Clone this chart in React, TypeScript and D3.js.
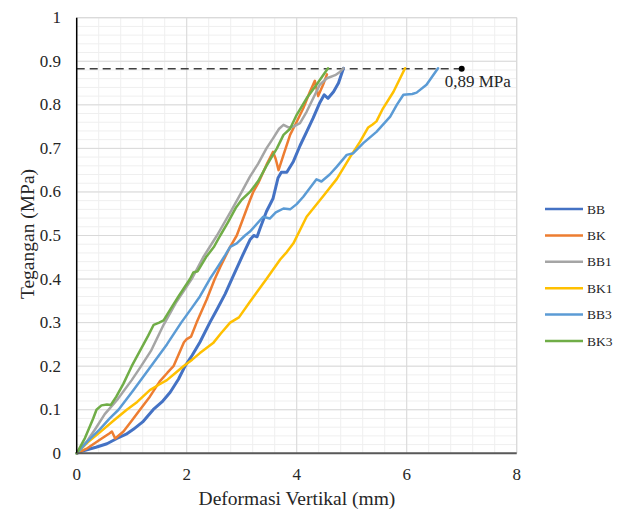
import React from "react";
import * as d3 from "d3";

type P = [number, number];

const seriesNames = ["BB", "BK", "BB1", "BK1", "BB3", "BK3"];
const seriesColors = ["#4472C4", "#ED7D31", "#A5A5A5", "#FFC000", "#5B9BD5", "#70AD47"];

const bb: P[] = [[0,0],[0.12,0.006],[0.35,0.014],[0.55,0.022],[0.73,0.034],[0.9,0.044],[1.03,0.055],[1.2,0.072],[1.39,0.1],[1.55,0.118],[1.7,0.14],[1.85,0.17],[1.97,0.2],[2.1,0.225],[2.24,0.255],[2.42,0.3],[2.55,0.33],[2.7,0.366],[2.82,0.4],[3.0,0.45],[3.15,0.49],[3.22,0.5],[3.28,0.497],[3.33,0.515],[3.45,0.555],[3.57,0.585],[3.66,0.632],[3.72,0.645],[3.82,0.645],[3.94,0.67],[4.06,0.706],[4.18,0.738],[4.3,0.77],[4.42,0.805],[4.5,0.823],[4.57,0.815],[4.67,0.83],[4.76,0.85],[4.85,0.884]];
const bk: P[] = [[0,0],[0.2,0.012],[0.42,0.031],[0.6,0.046],[0.64,0.05],[0.7,0.034],[0.85,0.05],[1.0,0.075],[1.15,0.1],[1.33,0.13],[1.51,0.165],[1.65,0.185],[1.76,0.2],[1.95,0.255],[2.0,0.262],[2.08,0.268],[2.18,0.3],[2.36,0.352],[2.51,0.4],[2.61,0.428],[2.79,0.474],[2.91,0.5],[2.97,0.52],[3.15,0.581],[3.21,0.6],[3.3,0.62],[3.45,0.662],[3.57,0.692],[3.62,0.675],[3.67,0.65],[3.76,0.685],[3.88,0.731],[4.0,0.761],[4.12,0.792],[4.24,0.83],[4.33,0.855],[4.39,0.82],[4.48,0.846],[4.55,0.87]];
const bb1: P[] = [[0,0],[0.2,0.03],[0.35,0.058],[0.51,0.09],[0.75,0.125],[1.0,0.168],[1.15,0.196],[1.35,0.235],[1.58,0.295],[1.8,0.345],[2.09,0.4],[2.3,0.45],[2.55,0.5],[2.8,0.555],[3.0,0.6],[3.15,0.635],[3.3,0.665],[3.45,0.7],[3.57,0.723],[3.68,0.745],[3.76,0.754],[3.85,0.748],[3.94,0.75],[4.06,0.758],[4.18,0.784],[4.3,0.815],[4.42,0.846],[4.55,0.861],[4.7,0.868],[4.79,0.876],[4.85,0.884]];
const bk1: P[] = [[0,0],[0.2,0.025],[0.42,0.048],[0.7,0.078],[0.91,0.1],[1.1,0.118],[1.33,0.145],[1.5,0.158],[1.64,0.168],[1.8,0.185],[1.94,0.2],[2.1,0.215],[2.24,0.23],[2.48,0.253],[2.62,0.275],[2.79,0.3],[2.95,0.312],[3.15,0.348],[3.45,0.4],[3.7,0.445],[3.82,0.462],[3.94,0.482],[4.18,0.543],[4.48,0.59],[4.73,0.63],[4.97,0.68],[5.15,0.715],[5.3,0.748],[5.38,0.755],[5.45,0.762],[5.57,0.792],[5.76,0.83],[5.97,0.884]];
const bb3: P[] = [[0,0],[0.2,0.028],[0.42,0.055],[0.6,0.08],[0.76,0.1],[1.03,0.145],[1.35,0.2],[1.64,0.25],[1.9,0.3],[2.1,0.335],[2.24,0.36],[2.42,0.4],[2.55,0.425],[2.7,0.455],[2.79,0.474],[2.91,0.482],[3.06,0.5],[3.15,0.509],[3.39,0.543],[3.51,0.539],[3.62,0.553],[3.76,0.562],[3.88,0.56],[4.0,0.572],[4.12,0.589],[4.36,0.629],[4.45,0.624],[4.6,0.64],[4.73,0.658],[4.91,0.685],[5.03,0.689],[5.21,0.712],[5.45,0.738],[5.7,0.773],[5.82,0.8],[5.94,0.823],[6.1,0.825],[6.18,0.828],[6.36,0.846],[6.57,0.884]];
const bk3: P[] = [[0,0],[0.15,0.035],[0.3,0.08],[0.36,0.1],[0.45,0.11],[0.55,0.112],[0.62,0.111],[0.72,0.13],[0.85,0.16],[1.0,0.2],[1.15,0.235],[1.3,0.27],[1.4,0.295],[1.5,0.3],[1.58,0.305],[1.7,0.33],[1.85,0.36],[2.06,0.4],[2.12,0.415],[2.2,0.418],[2.35,0.45],[2.5,0.475],[2.61,0.5],[2.75,0.53],[2.9,0.565],[3.0,0.582],[3.15,0.6],[3.3,0.625],[3.45,0.66],[3.64,0.7],[3.76,0.731],[3.88,0.745],[4.0,0.777],[4.18,0.815],[4.36,0.846],[4.48,0.868],[4.57,0.884]];

const seriesData = [bb, bk, bb1, bk1, bb3, bk3];

const xTicks = [0, 2, 4, 6, 8];
const yTicks = [0, 0.1, 0.2, 0.3, 0.4, 0.5, 0.6, 0.7, 0.8, 0.9, 1];
const yTickLabels = ["0", "0.1", "0.2", "0.3", "0.4", "0.5", "0.6", "0.7", "0.8", "0.9", "1"];

const limitValue = 0.883;
const limitX = 7;
const limitLabel = "0,89 MPa";
const xTitle = "Deformasi Vertikal (mm)";
const yTitle = "Tegangan (MPa)";

const W = 621, H = 511;
const L = 76.7, R = 516.7, T = 17.7, B = 453.3;
const FONT = "'Liberation Serif', 'Times New Roman', serif";

export default function App() {
  const x = d3.scaleLinear().domain([0, 8]).range([L, R]);
  const y = d3.scaleLinear().domain([0, 1]).range([B, T]);
  const line = d3.line<P>().x(d => x(d[0])).y(d => y(d[1]));

  const minorX = d3.range(0, 8.0001, 0.4);
  const minorY = d3.range(0, 1.0001, 0.02);

  return (
    <svg width={W} height={H} style={{ position: "absolute", left: 0, top: 0, background: "#fff" }}>
      <g>
        {minorY.map((v, i) => (
          <line key={"my" + i} x1={L} x2={R} y1={y(v)} y2={y(v)} stroke="#efefef" strokeWidth={1} />
        ))}
        {minorX.map((v, i) => (
          <line key={"mx" + i} x1={x(v)} x2={x(v)} y1={T} y2={B} stroke="#efefef" strokeWidth={1} />
        ))}
        {yTicks.map((v, i) => (
          <line key={"gy" + i} x1={L} x2={R} y1={y(v)} y2={y(v)} stroke="#d9d9d9" strokeWidth={1} />
        ))}
        {xTicks.map((v, i) => (
          <line key={"gx" + i} x1={x(v)} x2={x(v)} y1={T} y2={B} stroke="#d9d9d9" strokeWidth={1} />
        ))}
        <line x1={R} x2={R} y1={T} y2={B} stroke="#d9d9d9" strokeWidth={1} />
        <line x1={L} x2={R} y1={T} y2={T} stroke="#d9d9d9" strokeWidth={1} />
      </g>
      <line x1={x(0)} x2={x(limitX)} y1={y(limitValue)} y2={y(limitValue)} stroke="#404040" strokeWidth={1.5} strokeDasharray="8,5" />
      <g fill="none" strokeLinejoin="round" strokeLinecap="round">
        {seriesData.map((d, i) => (
          <path key={seriesNames[i]} d={line(d) || ""} stroke={seriesColors[i]} strokeWidth={i === 0 ? 3 : 2.5} />
        ))}
      </g>
      <circle cx={x(limitX)} cy={y(limitValue)} r={3} fill="#000" />
      <text x={x(limitX) - 17} y={y(limitValue) + 18} fontFamily={FONT} fontSize={17} fill="#262626">{limitLabel}</text>
      <line x1={L} x2={L} y1={T} y2={B} stroke="#000" strokeWidth={1.5} />
      <line x1={L} x2={R} y1={B} y2={B} stroke="#595959" strokeWidth={2} />
      {yTicks.map((v, i) => (
        <text key={"yl" + i} x={61} y={y(v)} textAnchor="end" dominantBaseline="central" fontFamily={FONT} fontSize={17} fill="#262626">{yTickLabels[i]}</text>
      ))}
      {xTicks.map((v, i) => (
        <text key={"xl" + i} x={x(v)} y={480} textAnchor="middle" fontFamily={FONT} fontSize={17} fill="#262626">{String(v)}</text>
      ))}
      <text x={297} y={505} textAnchor="middle" fontFamily={FONT} fontSize={19.5} fill="#262626">{xTitle}</text>
      <text transform={`translate(27,234) rotate(-90)`} textAnchor="middle" dominantBaseline="central" fontFamily={FONT} fontSize={19.5} fill="#262626">{yTitle}</text>
      <g>
        {seriesNames.map((n, i) => (
          <g key={"lg" + n} transform={`translate(0,${209 + i * 26.4})`}>
            <line x1={545} x2={583} y1={0} y2={0} stroke={seriesColors[i]} strokeWidth={2.5} />
            <text x={587} y={0} dominantBaseline="central" fontFamily={FONT} fontSize={13.5} fill="#262626">{n}</text>
          </g>
        ))}
      </g>
    </svg>
  );
}
